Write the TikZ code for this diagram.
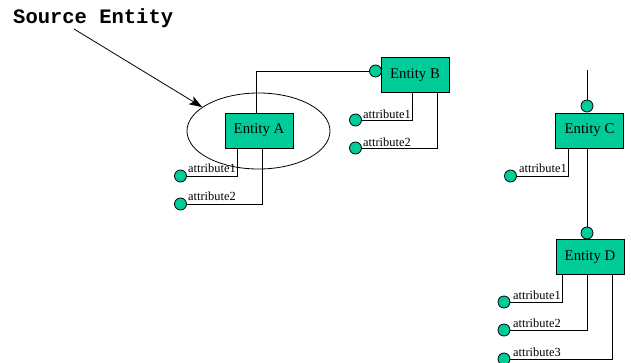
\documentclass[tikz,border=0pt]{standalone}
\usepackage{fontspec}
\setmainfont{Liberation Serif}
\newfontfamily\srcfont{Liberation Mono}
\usetikzlibrary{arrows.meta, shapes.geometric}
\definecolor{entgreen}{RGB}{0,204,153}
\tikzset{
    entity/.style = {draw, fill = entgreen, line width = 0.8pt, minimum width = 68pt, minimum height = 35pt, inner sep = 0pt, font = \fontsize{14.8}{14.8}\selectfont},
    port/.style = {draw, fill = entgreen, line width = 0.8pt, circle, minimum size = 12pt, inner sep = 0pt},
    attr/.style = {anchor = base west, inner sep = 0pt, font = \fontsize{12.4}{12.4}\selectfont},
    link/.style = {black, line width = 0.8pt}
}
\begin{document}
\begin{tikzpicture}[x = 1pt, y = -1pt]
        \useasboundingbox (0, 0) rectangle (631, 362);
        % source entity and its ring
        \node[anchor = base west, inner sep = 0pt, font = \srcfont\bfseries\fontsize{20.5}{20.5}\selectfont] (src) at (13, 23) {Source Entity};
        \node[draw, ellipse, line width = 0.8pt, minimum width = 143pt, minimum height = 76pt] (ring) at (258.5, 131) {};
        \coordinate (tail) at (74, 29);
        \draw[link, -{Stealth[length = 13pt, width = 9pt, inset = 3pt]}] (tail) -- (ring.157);
        % entities
        \node[entity] (entA) at (259, 130.5) {Entity A};
        \node[entity] (entB) at (415, 75) {Entity B};
        \node[entity] (entC) at (589.5, 130.5) {Entity C};
        \node[entity] (entD) at (590, 257) {Entity D};
        % ports
        \node[port] (inB) at (375.5, 71) {};
        \node[port] (inC) at (587, 106) {};
        \node[port] (inD) at (587, 233) {};
        \node[port] (pA1) at (180.5, 176) {};
        \node[port] (pA2) at (180.5, 204) {};
        \node[port] (pB1) at (355.5, 120) {};
        \node[port] (pB2) at (355.5, 148) {};
        \node[port] (pC1) at (510.5, 176) {};
        \node[port] (pD1) at (504, 302) {};
        \node[port] (pD2) at (504, 330) {};
        \node[port] (pD3) at (504, 359) {};
        \coordinate (topC) at (587, 70);
        % links
        \draw[link] ([xshift = -3pt] entA.north) |- (inB.west);
        \draw[link] (topC) -- (inC.north);
        \draw[link] ([xshift = -2.5pt] entC.south) -- (inD.north);
        \draw[link] (pA1.east) -| ([xshift = -22pt] entA.south);
        \draw[link] (pA2.east) -| ([xshift = 3pt] entA.south);
        \draw[link] (pB1.east) -| ([xshift = -3pt] entB.south);
        \draw[link] (pB2.east) -| ([xshift = 22pt] entB.south);
        \draw[link] (pC1.east) -| ([xshift = -21.5pt] entC.south);
        \draw[link] (pD1.east) -| ([xshift = -28pt] entD.south);
        \draw[link] (pD2.east) -| ([xshift = -3pt] entD.south);
        \draw[link] (pD3.east) -| ([xshift = 22pt] entD.south);
        % attribute labels
        \node[attr] (lA1) at (188, 172.5) {attribute1};
        \node[attr] (lA2) at (188, 200) {attribute2};
        \node[attr] (lB1) at (363, 118) {attribute1};
        \node[attr] (lB2) at (363, 146) {attribute2};
        \node[attr] (lC1) at (519, 172) {attribute1};
        \node[attr] (lD1) at (513, 299) {attribute1};
        \node[attr] (lD2) at (513, 327.5) {attribute2};
        \node[attr] (lD3) at (513, 356) {attribute3};
    \end{tikzpicture}
\end{document}
